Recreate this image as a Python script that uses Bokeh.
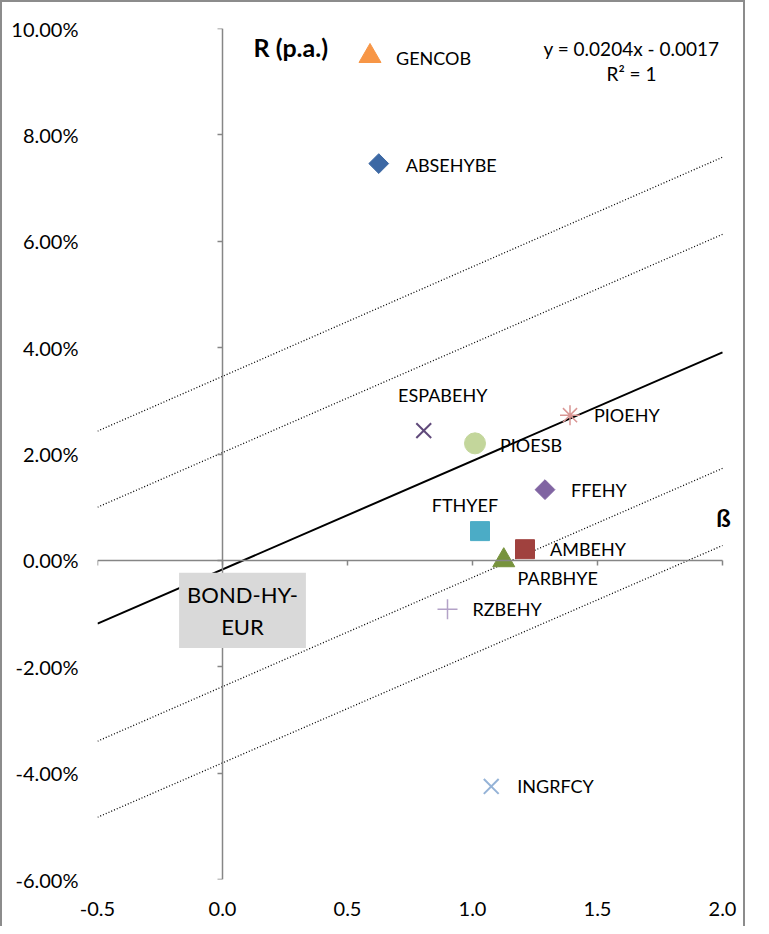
from bokeh.plotting import figure
from bokeh.models import (ColumnDataSource, Range1d, LinearAxis, FixedTicker,
                          NumeralTickFormatter, Label, LabelSet)
from bokeh.core.properties import value
from bokeh.embed import file_html
from bokeh.resources import INLINE

# ---- data ----
funds = ["GENCOB", "ABSEHYBE", "ESPABEHY", "PIOESB", "PIOEHY", "FFEHY",
         "FTHYEF", "AMBEHY", "PARBHYE", "RZBEHY", "INGRFCY"]
beta = [0.59, 0.625, 0.805, 1.01, 1.39, 1.29, 1.03, 1.21, 1.125, 0.90, 1.075]
ret = [0.0948, 0.0746, 0.0244, 0.0220, 0.0273, 0.0133, 0.0055, 0.0021, 0.0000, -0.0092, -0.0425]

line_x = [-0.5, 2.0]
sml_y = [-0.0119, 0.0391]          # y = 0.0204x - 0.0017
band_up2 = [0.0243, 0.0758]
band_up1 = [0.0100, 0.0613]
band_dn1 = [-0.0340, 0.0173]
band_dn2 = [-0.0483, 0.0028]

x_ticks = [-0.5, 0.0, 0.5, 1.0, 1.5, 2.0]
y_ticks = [-0.06, -0.04, -0.02, 0.0, 0.02, 0.04, 0.06, 0.08, 0.10]

# ---- styles ----
markers = ["triangle", "square", "x", "circle", "asterisk", "square",
           "square", "square", "triangle", "cross", "x"]
colors = ["#F79646", "#3C68A4", "#604A7B", "#C3D69B", "#D99694", "#8064A2",
          "#4BACC6", "#A0413E", "#77933C", "#B3A2C7", "#95B3D7"]
sizes = [22, 14, 21, 21, 20, 14, 19, 19, 22, 20, 21]
angles = [0, 0.785398, 0, 0, 0, 0.785398, 0, 0, 0, 0, 0]
lwidths = [1, 1, 2, 1, 1.5, 1, 1, 1, 1, 1.5, 2]
lab_dx = [26, 27, 19, 25, 24, 26, -15, 25, 54, 25, 26]
lab_dy = [-2, -1, 36, -2, 0, 0, 26, 0, -18, 0, 0]
lab_align = ["left", "left", "center", "left", "left", "left",
             "center", "left", "center", "left", "left"]

FONT = "Lato"

src = ColumnDataSource(dict(beta=beta, ret=ret, name=funds, marker=markers,
                            color=colors, size=sizes, angle=angles, lw=lwidths,
                            dx=lab_dx, dy=lab_dy, align=lab_align))

p = figure(width=745, height=926, output_backend="svg", toolbar_location=None,
           x_range=Range1d(-0.5, 2.04), y_range=Range1d(-0.06, 0.10),
           x_axis_location=None, y_axis_location=None,
           min_border_left=95, min_border_right=15, min_border_top=26,
           min_border_bottom=49)
p.grid.visible = False
p.outline_line_color = None
p.background_fill_color = "white"
p.border_fill_color = "white"
p.styles = {"border": "2px solid #8c8c8c", "border-bottom": "none",
            "box-sizing": "border-box"}

# label-only axes at the plot edges (Excel "low" label position)
yl = LinearAxis(ticker=FixedTicker(ticks=y_ticks),
                formatter=NumeralTickFormatter(format="0.00%"))
yl.axis_line_color = None
yl.major_tick_line_color = None
yl.minor_tick_line_color = None
yl.major_tick_out = 0
yl.major_tick_in = 0
yl.major_label_standoff = 19
yl.major_label_text_font = FONT
yl.major_label_text_font_size = "20px"
yl.major_label_text_color = "#000000"
p.add_layout(yl, "left")

xl = LinearAxis(ticker=FixedTicker(ticks=x_ticks),
                formatter=NumeralTickFormatter(format="0.0"))
xl.axis_line_color = None
xl.major_tick_line_color = None
xl.minor_tick_line_color = None
xl.major_tick_out = 0
xl.major_tick_in = 0
xl.major_label_standoff = 22
xl.major_label_text_font = FONT
xl.major_label_text_font_size = "20px"
xl.major_label_text_color = "#000000"
p.add_layout(xl, "below")

# crossing axes at 0
ya = LinearAxis(ticker=FixedTicker(ticks=y_ticks), fixed_location=0)
ya.axis_line_color = "#868686"
ya.axis_line_width = 1.5
ya.major_tick_line_color = "#868686"
ya.major_tick_line_width = 1.5
ya.major_tick_out = 5
ya.major_tick_in = 0
ya.minor_tick_line_color = None
ya.major_label_text_font_size = "0px"
ya.major_label_text_alpha = 0
p.add_layout(ya, "left")

xa = LinearAxis(ticker=FixedTicker(ticks=x_ticks), fixed_location=0,
                bounds=(-0.5, 2.0))
xa.axis_line_color = "#868686"
xa.axis_line_width = 1.5
xa.major_tick_line_color = "#868686"
xa.major_tick_line_width = 1.5
xa.major_tick_out = 5
xa.major_tick_in = 0
xa.minor_tick_line_color = None
xa.major_label_text_font_size = "0px"
xa.major_label_text_alpha = 0
p.add_layout(xa, "below")

# lines
for yy in (band_up2, band_up1, band_dn1, band_dn2):
    p.line(line_x, yy, line_color="black", line_width=1.3, line_dash="1 2")
p.line(line_x, sml_y, line_color="black", line_width=2)

# points
p.scatter(x="beta", y="ret", marker="marker", size="size", angle="angle",
          fill_color="color", line_color="color", line_width="lw", source=src)

labels = LabelSet(x="beta", y="ret", text="name", x_offset="dx", y_offset="dy",
                  text_align="align", text_baseline="middle", source=src,
                  text_font=value(FONT), text_font_size="18px", text_color="#000000")
p.add_layout(labels)

# benchmark box
p.add_layout(Label(x=0.08, y=-0.0094, text="BOND-HY-\nEUR", text_align="center",
                   text_baseline="middle", text_font=FONT, text_font_size="22px",
                   text_line_height=1.2, background_fill_color="#D9D9D9",
                   padding=8, text_color="#000000"))

# axis titles
p.add_layout(Label(x=0.124, y=0.0966, text="R (p.a.)", text_align="left",
                   text_baseline="middle", text_font=FONT, text_font_size="25px",
                   text_font_style="bold", text_color="#000000"))
p.add_layout(Label(x=2.004, y=0.0081, text="ß", text_align="center",
                   text_baseline="middle", text_font=FONT, text_font_size="24px",
                   text_font_style="bold", text_color="#000000"))

# trendline equation
p.add_layout(Label(x=1.636, y=0.0963, text="y = 0.0204x - 0.0017", text_align="center",
                   text_baseline="middle", text_font=FONT, text_font_size="19px",
                   text_color="#000000"))
p.add_layout(Label(x=1.636, y=0.0916, text="R² = 1", text_align="center",
                   text_baseline="middle", text_font=FONT, text_font_size="19px",
                   text_color="#000000"))

open("out.html", "w").write(file_html(p, INLINE))
